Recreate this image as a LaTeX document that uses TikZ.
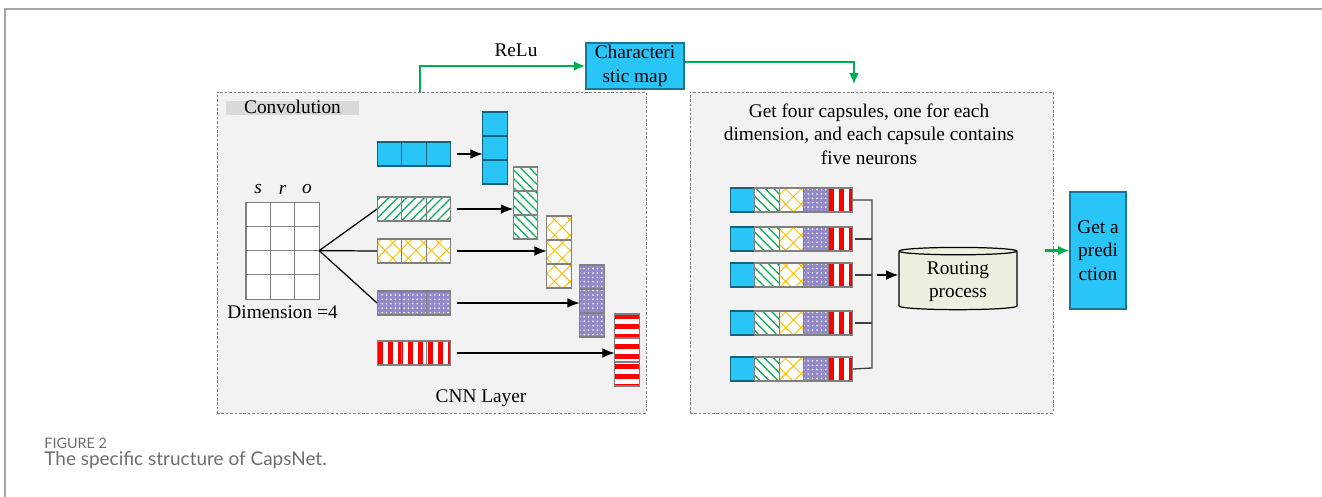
\documentclass[tikz,border=0pt]{standalone}
\usepackage{fontspec}
\setmainfont{Liberation Serif}
\newfontfamily\captionfont{Lato}
\usetikzlibrary{arrows.meta,positioning,patterns.meta,shapes.geometric}
\definecolor{capsblue}{RGB}{41,197,246}
\definecolor{capsgreen}{RGB}{0,176,80}
\definecolor{capsyellow}{RGB}{255,192,0}
\definecolor{capspurple}{RGB}{146,138,200}
\definecolor{panelgray}{RGB}{242,242,242}
\definecolor{labelgray}{RGB}{217,217,217}
\definecolor{routegreen}{RGB}{235,241,222}
\definecolor{captiongray}{RGB}{110,110,110}

\begin{document}
\begin{tikzpicture}[x=0.02cm, y=-0.02cm, every node/.style={font=\fontsize{11}{13.4}\selectfont}]
\tikzset{
    panel/.style={draw=gray, fill=panelgray, line width=0.5pt, dash pattern=on 1.5pt off 1pt, minimum height=6.42cm, inner sep=0pt},
    cell/.style={draw=gray, line width=0.6pt, minimum width=0.49cm, minimum height=0.48cm, inner sep=0pt, outer sep=0pt},
    blankcell/.style={cell, fill=white, minimum width=0.488cm, minimum height=0.486cm},
    bluecell/.style={cell, fill=capsblue, draw=capsblue!50!black},
    greencell/.style={cell, preaction={fill=white}, pattern color=capsgreen,
        pattern={Lines[angle=#1, distance=3.6pt, line width=0.7pt]}},
    greencell/.default=-45,
    yellowcell/.style={cell, preaction={fill=white},
        preaction={pattern color=capsyellow, pattern={Lines[angle=-45, distance=6.2pt, line width=0.55pt]}},
        pattern color=capsyellow, pattern={Lines[angle=45, distance=6.2pt, line width=0.55pt]}},
    purplecell/.style={cell, preaction={fill=capspurple}, pattern color=white,
        pattern={Dots[distance=2.5pt, radius=0.5pt]}},
    redcell/.style={cell, preaction={fill=white}, pattern color=red,
        pattern={Lines[angle=#1, distance=5.7pt, line width=2.8pt]}},
    redcell/.default=90,
    tealbox/.style={draw=capsblue!60!black, fill=capsblue, line width=0.6pt, align=center, inner sep=1pt},
    arr/.style={-{Latex[length=7pt, width=5.5pt]}, line width=0.75pt},
    greenarr/.style={capsgreen, -{Latex[length=6.5pt, width=5.5pt]}, line width=1.4pt},
    bus/.style={line width=0.75pt, black!75}
}
\useasboundingbox (0,0) rectangle (1322,497);

% Frame of the figure
\draw[gray!70, line width=0.6pt] (5,497) -- (5,9) -- (1322,9);

% Left panel: convolution
\node[panel, minimum width=8.58cm] (cnnbox) at (431.5,252.5) {};
\node[fill=labelgray, minimum width=2.66cm, minimum height=0.28cm, inner sep=0pt, text height=7pt, text depth=0.5pt] (convlabel) at (292.5,108) {Convolution};

% input matrix
\foreach \i in {1,...,4}
  \foreach \j in {1,2,3}
    \node[blankcell] (m\i\j) at ({233.8+24.4*\j},{189.9+24.3*\i}) {};
\node[above=1pt of m11] (labs) {\textit{s}};
\node[above=1pt of m12] (labr) {\textit{r}};
\node[above=1pt of m13] (labo) {\textit{o}};
\node[below=0pt of m42] (dimlabel) {Dimension =4};

% feature maps, rows and stacks
\foreach \i in {1,2,3} {
  \node[bluecell] (hb\i) at ({364.6+24.7*\i},154) {};
  \node[greencell=45] (hg\i) at ({364.6+24.7*\i},209) {};
  \node[yellowcell] (hy\i) at ({364.6+24.7*\i},251) {};
  \node[purplecell] (hp\i) at ({364.6+24.7*\i},303) {};
  \node[redcell] (hr\i) at ({364.6+24.7*\i},353) {};
  \node[bluecell] (vb\i) at (495,{100+24*\i}) {};
  \node[greencell] (vg\i) at (525.5,{155+24*\i}) {};
  \node[yellowcell] (vy\i) at (559,{204+24*\i}) {};
  \node[purplecell] (vp\i) at (592,{253+24*\i}) {};
  \node[redcell=0] (vr\i) at (627,{302+24*\i}) {};
}
\foreach \c in {b,g,y,p,r}
  \draw[arr] ([xshift=0.12cm]h\c3.east) -- (h\c3.east -| v\c1.west);

\coordinate (fork) at (m23.south east);
\draw[line width=0.7pt] (fork) -- (hg1.west);
\draw[line width=0.7pt] (fork) -- (hy1.west);
\draw[line width=0.7pt] (fork) -- (hp1.west);
\node (cnnlabel) at (481,398) {CNN Layer};

% Characteristic map and ReLu
\node[tealbox, minimum width=1.96cm, minimum height=0.92cm] (charmap) at (635,66) {Characteri\\stic map};
\node[panel, minimum width=7.26cm] (capsbox) at (871.5,252.5) {};
\draw[greenarr] ([xshift=-0.23cm]cnnbox.north) |- (charmap.west) node[pos=0.79, above=1pt, text=black] (relu) {ReLu};
\draw[greenarr] ([yshift=0.08cm]charmap.east) -| ([xshift=-0.35cm, yshift=0.14cm]capsbox.north);

% Right panel: capsules and routing
\node[align=center] (capstext) at (869,134) {Get four capsules, one for each\\dimension, and each capsule contains\\five neurons};
\foreach \i/\y in {1/200,2/239,3/275,4/323,5/369}
  \foreach \j/\kind in {1/bluecell,2/greencell,3/yellowcell,4/purplecell,5/redcell}
    \node[\kind] (c\i\j) at ({717.7+24.6*\j},\y) {};

\coordinate (bustop) at (872,200);
\coordinate (busbot) at (872,368);
\draw[bus] (c15.east) -- (bustop) -- (busbot) -- (c55.east);
\foreach \i in {2,3,4}
  \draw[bus] ([xshift=0.04cm]c\i5.east) -- (c\i5.east -| bustop);
\node[cylinder, shape border rotate=90, aspect=0.1, draw, line width=0.7pt, fill=routegreen, minimum width=2.36cm, minimum height=1.14cm, align=center] (routing) at (958,281.5) {Routing\\process};
\draw[arr] ([xshift=0.1cm]c35.east -| bustop) -- (c35.east -| routing.west);

% Prediction
\node[tealbox, minimum width=1.12cm, minimum height=2.34cm] (predict) at (1098,250.5) {Get a\\predi\\ction};
\draw[greenarr] ([xshift=-0.48cm]predict.west) -- (predict.west);

% Caption
\node[anchor=west, inner sep=0pt, text=captiongray, font=\captionfont\fontsize{8.2}{10}\selectfont] (figlabel) at (44,443) {FIGURE 2};
\node[anchor=west, inner sep=0pt, text=captiongray, font=\captionfont\fontsize{10.8}{13}\selectfont] (figcaption) at (44,460) {The specific structure of CapsNet.};
\end{tikzpicture}
\end{document}
